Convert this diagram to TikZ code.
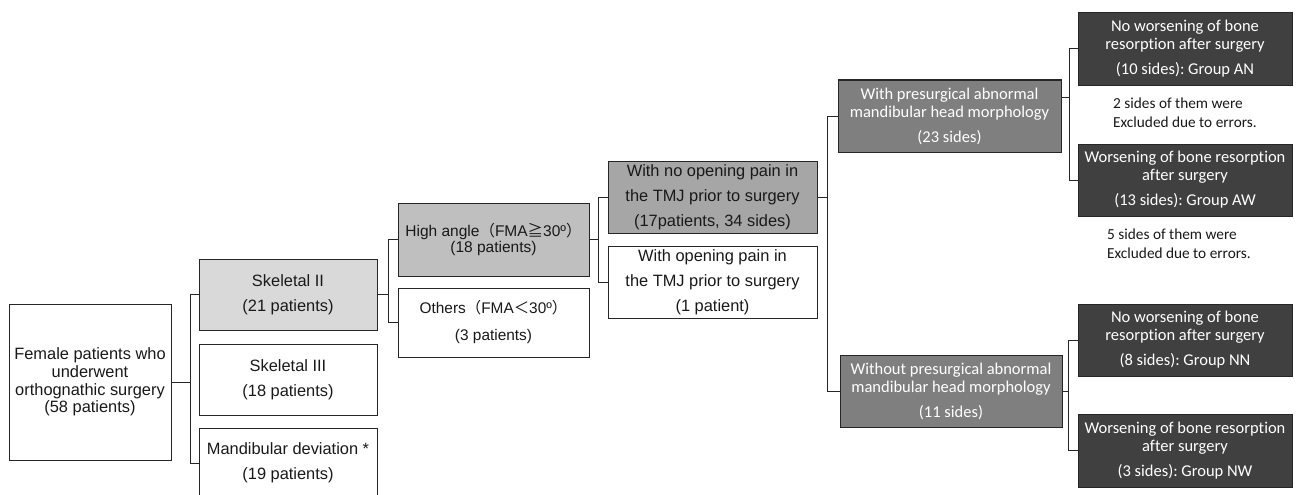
\documentclass[tikz,border=0pt]{standalone}
\usepackage{fontspec}
\setmainfont{Liberation Sans}
\newfontfamily\carl[Ligatures=NoCommon]{Carlito}
\newfontfamily\cjkf{Noto Sans CJK JP}
\usetikzlibrary{calc}
\frenchspacing
\definecolor{lg}{HTML}{D9D9D9}
\definecolor{mg}{HTML}{BFBFBF}
\definecolor{dg}{HTML}{A6A6A6}
\definecolor{xg}{HTML}{7F7F7F}
\definecolor{bg}{HTML}{404040}
\definecolor{ln}{HTML}{262626}
\tikzset{
  box/.style={draw=ln, line width=1pt, inner sep=0pt, align=center,
    font=\fontsize{16.4}{17.7}\selectfont, text=black!90},
  rbox/.style={box, font=\carl\fontsize{16.5}{18}\selectfont, text=white},
  conn/.style={draw=ln, line width=1pt},
  note/.style={inner sep=0pt, align=left, font=\carl\fontsize{15.3}{19}\selectfont, text=black!90}
}
\begin{document}
\begin{tikzpicture}[x=1pt,y=-1pt]
\useasboundingbox (0,0) rectangle (1301,495);
\clip (0,0) rectangle (1301,495);
\fill[white] (0,0) rectangle (1301,495);
% level 0
\node[box, minimum width=162, minimum height=156] (fem) at (90,382)
  {Female patients who\\underwent\\orthognathic surgery\\(58 patients)};
% level 1
\node[box, fill=lg, minimum width=178, minimum height=71] (sk2) at (288,294.5)
  {Skeletal II\\[7.3pt](21 patients)};
\node[box, minimum width=178, minimum height=71] (sk3) at (288,379.5)
  {Skeletal III\\[7.3pt](18 patients)};
\node[box, minimum width=178, minimum height=70] (md) at (288,463)
  {Mandibular deviation *\\[7.3pt](19 patients)};
% level 2
\node[box, fill=mg, minimum width=191, minimum height=73, font=\fontsize{15.5}{16.5}\selectfont] (ha) at (493.5,239.5)
  {High angle{\cjkf （}FMA{\cjkf ≧}30º{\cjkf ）}\\(18 patients)};
\node[box, minimum width=191, minimum height=69, font=\fontsize{15.4}{17}\selectfont] (ot) at (493.5,322.5)
  {Others{\cjkf （}FMA{\cjkf ＜}30º{\cjkf ）}\\[10pt](3 patients)};
% level 3
\node[box, fill=dg, minimum width=209, minimum height=72] (no) at (712.5,197)
  {With no opening pain in\\[7.3pt]the TMJ prior to surgery\\[7.3pt](17patients, 34 sides)};
\node[box, minimum width=209, minimum height=72] (op) at (712.5,282)
  {With opening pain in\\[7.3pt]the TMJ prior to surgery\\[7.3pt](1 patient)};
% level 4
\node[rbox, fill=xg, minimum width=223, minimum height=72] (wp) at (949.5,116)
  {With presurgical abnormal\\mandibular head morphology\\[7pt](23 sides)};
\node[rbox, fill=xg, minimum width=222, minimum height=72] (wo) at (951,391)
  {Without presurgical abnormal\\mandibular head morphology\\[7pt](11 sides)};
% level 5
\node[rbox, fill=bg, minimum width=214, minimum height=72] (an) at (1185,49)
  {No worsening of bone\\resorption after surgery\\[7pt](10 sides): Group AN};
\node[rbox, fill=bg, minimum width=214, minimum height=72] (aw) at (1185,180)
  {Worsening of bone resorption\\after surgery\\[7pt](13 sides): Group AW};
\node[rbox, fill=bg, minimum width=214, minimum height=72] (nn) at (1185,340)
  {No worsening of bone\\resorption after surgery\\[7pt](8 sides): Group NN};
\node[rbox, fill=bg, minimum width=214, minimum height=73] (nw) at (1185,450.5)
  {Worsening of bone resorption\\after surgery\\[7pt](3 sides): Group NW};
% notes
\node[note, anchor=west] (n1) at (1113,113) {2 sides of them were\\Excluded due to errors.};
\node[note, anchor=west] (n2) at (1107,244) {5 sides of them were\\Excluded due to errors.};
% connectors
\draw[conn] (fem.east) -- ++(19,0) |- (sk2.west);
\draw[conn] (fem.east) -- ++(19,0) |- (md.west);
\draw[conn] (sk2.east) -- ++(11,0) |- (ha.west);
\draw[conn] (sk2.east) -- ++(11,0) |- (ot.west);
\draw[conn] (ha.east) -- ++(9,0) |- (no.west);
\draw[conn] (ha.east) -- ++(9,0) |- (op.west);
\draw[conn] (no.east) -- ++(10,0) |- (wp.west);
\draw[conn] (no.east) -- ++(10,0) |- (wo.west);
\coordinate (wpx) at ($(wp.north east)!0.25!(wp.south east)$);
\draw[conn] (wpx) -- ++(8,0) |- (an.west);
\draw[conn] (wpx) -- ++(8,0) |- (aw.west);
\draw[conn] (wo.east) -- ++(6,0) |- (nn.west);
\draw[conn] (wo.east) -- ++(6,0) |- (nw.west);
\end{tikzpicture}
\end{document}
